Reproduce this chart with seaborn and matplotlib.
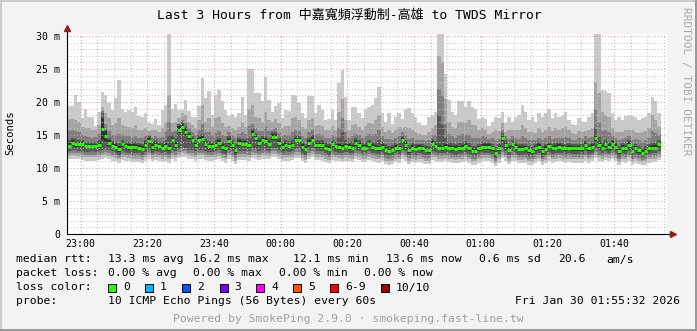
import numpy as np
import pandas as pd
import matplotlib
matplotlib.use("Agg")
import matplotlib.pyplot as plt
import seaborn as sns
from matplotlib.ticker import MultipleLocator
from matplotlib.patches import Rectangle

# ---------------- data ----------------
# time axis in minutes since 00:00 of Jan 29 (23:00 = 1380, 01:40 = 1540)
view_start = 1375.89
view_end = 1555.89
first_step = 1376          # first 1-minute step start

med = [13.4,13.8,13.6,13.6,13.6,13.3,13.3,13.3,13.3,13.5,15.9,14.8,13.8,13.4,13.2,12.9,13.6,13.3,13.2,13.2,13.2,13.1,12.9,13.5,14.1,13.2,13.5,13.3,13.1,13.4,
       13.0,14.2,13.5,15.8,16.2,15.5,14.8,14.2,13.5,14.3,14.4,13.6,13.3,13.3,13.5,13.8,13.2,13.0,14.1,13.5,12.7,13.8,13.7,13.7,13.5,15.2,14.5,13.8,14.2,14.1,
       13.7,14.7,14.7,13.8,13.2,13.5,13.3,13.5,14.2,14.2,13.2,12.9,13.8,14.3,13.5,13.5,13.5,13.1,12.9,13.6,13.3,13.2,13.1,13.3,13.2,13.1,13.8,13.5,13.1,13.1,
       13.6,13.2,13.1,13.0,13.2,12.8,12.6,12.8,13.1,13.0,14.2,13.5,12.7,13.1,12.9,13.1,13.0,12.8,12.7,13.7,13.3,13.1,13.0,13.2,13.1,13.0,12.9,13.0,13.1,13.4,
       13.0,12.6,12.6,13.0,13.2,13.2,13.2,13.0,12.2,13.0,14.5,13.5,12.8,13.6,13.2,12.9,12.9,13.0,12.7,12.5,13.0,13.2,12.5,12.9,13.3,13.0,13.1,13.2,13.1,13.0,
       13.1,13.0,13.0,13.0,13.0,13.5,13.0,13.2,14.5,13.5,13.1,13.6,13.2,13.7,13.2,12.5,13.1,13.0,13.5,12.6,13.0,12.7,12.3,12.6,13.0,13.1,13.1,13.6]

p_max = [19.4,19.4,21.0,20.0,17.5,18.9,17.7,17.7,16.3,18.5,21.5,21.0,19.8,18.8,20.6,23.3,19.0,18.5,18.8,18.5,19.3,17.9,17.7,18.4,16.8,16.7,17.4,16.5,18.8,19.5,
         30.6,19.0,19.7,18.8,18.8,20.3,18.6,17.7,17.7,19.4,23.7,20.6,21.6,18.0,21.1,21.8,20.1,18.8,17.9,18.2,17.8,18.3,20.8,18.0,25.0,25.0,21.3,21.3,20.1,23.8,
         20.3,18.5,19.4,19.8,17.5,18.8,18.6,21.1,21.1,19.8,18.3,17.5,20.9,20.9,18.3,19.5,18.8,17.2,17.4,18.8,17.3,22.9,24.8,20.8,17.3,19.2,19.2,18.4,17.5,19.0,
         19.2,19.5,20.6,22.2,18.3,16.9,18.3,16.7,17.7,18.3,17.4,18.9,19.1,18.3,17.8,16.8,16.5,16.5,17.7,18.0,18.5,30.6,30.6,24.3,20.3,18.5,18.0,20.2,20.1,19.2,
         20.1,19.3,19.0,17.4,17.7,17.4,16.3,17.0,17.7,17.5,18.5,16.8,17.8,17.0,17.7,18.0,19.5,18.5,17.2,17.7,16.9,18.3,17.7,18.4,19.0,17.5,18.4,17.7,18.0,18.5,
         17.3,16.7,16.5,17.5,17.0,17.0,17.7,18.3,30.6,30.6,21.8,21.6,21.3,18.3,17.3,17.7,17.3,17.9,18.0,17.9,17.7,17.3,17.5,17.8,18.3,20.8,20.1,18.3]

p_hi2 = [17.4,17.4,17.2,17.0,16.2,16.0,16.0,15.8,15.8,16.5,19.2,18.3,17.5,16.5,16.8,17.5,16.5,16.3,16.2,16.0,16.5,15.8,15.8,16.0,15.6,15.8,15.8,15.5,16.0,17.0,
         21.0,16.8,17.0,17.5,18.3,18.0,17.0,16.5,16.0,17.2,19.5,17.0,17.5,16.2,17.5,17.8,16.8,16.2,16.4,16.0,15.8,16.2,17.0,16.2,19.0,19.5,17.8,17.5,17.0,18.5,
         17.2,17.0,17.4,16.8,16.0,16.3,16.4,17.5,17.8,17.2,16.2,15.9,17.2,17.5,16.3,16.5,16.4,15.8,15.8,16.3,15.8,18.5,20.5,17.2,15.8,16.5,16.6,16.2,15.8,16.4,
         16.8,16.6,17.2,18.0,16.2,15.5,15.8,15.3,15.8,16.2,16.0,16.2,16.0,15.7,15.5,15.2,15.0,15.0,15.5,16.0,16.5,27.0,26.0,20.5,17.0,16.2,16.0,17.0,17.0,16.8,
         17.2,16.5,16.5,15.7,16.0,15.8,15.2,15.5,15.8,15.6,16.8,15.5,15.8,15.7,15.8,15.8,16.5,16.0,15.4,15.5,15.3,16.0,15.5,15.8,16.2,15.6,16.0,15.8,16.0,16.2,
         15.7,15.3,15.2,15.6,15.4,15.6,15.8,16.0,23.0,21.3,18.5,18.0,17.8,16.0,15.5,15.5,15.5,15.7,15.8,15.7,15.5,15.3,15.4,15.6,16.0,18.0,17.3,16.2]

p_hi3 = [15.6,15.8,15.6,15.4,15.0,14.8,14.7,14.6,14.7,15.2,18.6,16.6,15.6,15.0,15.0,15.2,15.0,14.8,14.8,14.6,14.8,14.5,14.5,14.8,15.0,14.6,14.8,14.6,14.7,15.5,
         17.0,15.5,15.6,16.6,17.3,16.8,16.0,15.5,15.0,15.8,16.6,15.4,15.4,15.0,15.3,15.6,15.0,14.8,15.4,15.0,14.5,15.2,15.4,15.1,16.4,16.6,16.0,15.6,15.6,16.2,
         15.6,15.8,16.0,15.3,14.8,15.0,15.0,15.5,15.8,15.6,14.9,14.6,15.5,15.8,15.0,15.1,15.0,14.6,14.5,15.0,14.7,16.0,17.5,15.4,14.6,14.9,15.2,15.0,14.6,14.8,
         15.2,15.0,15.2,15.8,14.9,14.4,14.4,14.2,14.6,14.8,15.4,15.0,14.4,14.5,14.3,14.3,14.2,14.1,14.2,15.0,15.0,22.0,21.0,16.6,15.2,14.8,14.6,15.0,15.1,15.0,
         15.0,14.6,14.5,14.5,14.8,14.7,14.4,14.5,14.2,14.4,15.8,14.8,14.4,14.8,14.6,14.4,14.8,14.6,14.2,14.2,14.3,14.6,14.2,14.5,14.8,14.4,14.6,14.6,14.6,14.7,
         14.6,14.3,14.3,14.5,14.4,14.8,14.5,14.7,19.0,17.0,15.6,15.8,15.4,14.9,14.6,14.2,14.4,14.5,14.8,14.3,14.4,14.2,14.0,14.3,14.6,15.6,15.3,15.0]

p_hi4 = [14.3,14.6,14.4,14.3,14.2,14.0,13.9,13.9,14.0,14.3,18.3,15.8,14.6,14.1,14.0,13.8,14.3,14.0,13.9,13.9,14.0,13.8,13.7,14.2,14.8,14.0,14.3,14.0,13.9,14.3,
         15.0,15.0,14.5,16.6,17.0,16.3,15.5,14.9,14.3,15.0,15.2,14.4,14.1,14.0,14.3,14.6,14.0,13.8,14.8,14.2,13.6,14.5,14.4,14.4,14.6,16.0,15.3,14.6,14.9,14.9,
         14.5,15.4,15.5,14.5,14.0,14.3,14.1,14.4,15.0,14.9,14.0,13.7,14.6,15.0,14.3,14.3,14.2,13.9,13.7,14.3,14.0,14.6,15.5,14.3,13.9,13.9,14.5,14.2,13.8,13.9,
         14.3,14.0,14.0,14.2,13.9,13.6,13.4,13.5,13.8,13.8,14.9,14.2,13.5,13.8,13.6,13.7,13.7,13.5,13.4,14.4,14.1,18.0,16.5,14.5,14.0,13.8,13.6,13.8,13.9,14.1,
         13.8,13.4,13.4,13.7,13.9,13.9,13.9,13.7,13.2,13.7,15.3,14.2,13.5,14.2,13.9,13.6,13.7,13.7,13.4,13.3,13.7,13.9,13.3,13.6,14.0,13.7,13.8,13.9,13.8,13.7,
         13.8,13.7,13.7,13.7,13.7,14.1,13.7,13.9,16.0,14.7,13.9,14.3,13.9,14.3,13.9,13.3,13.8,13.7,14.2,13.4,13.7,13.4,13.1,13.4,13.7,13.9,13.8,14.3]

p_hi5 = [13.8,14.2,14.0,14.0,13.9,13.7,13.6,13.6,13.7,13.9,17.6,15.6,14.2,13.8,13.6,13.4,14.0,13.7,13.6,13.6,13.6,13.5,13.3,13.9,14.5,13.6,13.9,13.7,13.5,13.8,
         13.5,14.6,14.0,16.3,16.7,16.0,15.2,14.6,13.9,14.7,14.8,14.0,13.7,13.7,13.9,14.2,13.6,13.4,14.5,13.9,13.1,14.2,14.1,14.1,13.9,15.6,14.9,14.2,14.6,14.5,
         14.1,15.1,15.1,14.2,13.6,13.9,13.7,13.9,14.6,14.6,13.6,13.3,14.2,14.7,13.9,13.9,13.9,13.5,13.3,14.0,13.7,13.6,13.5,13.7,13.6,13.5,14.2,13.9,13.5,13.5,
         14.0,13.6,13.5,13.4,13.6,13.2,13.0,13.2,13.5,13.4,14.6,13.9,13.1,13.5,13.3,13.5,13.4,13.2,13.1,14.1,13.7,13.5,13.4,13.6,13.5,13.4,13.3,13.4,13.5,13.8,
         13.4,13.0,13.0,13.4,13.6,13.6,13.6,13.4,12.6,13.4,14.9,13.9,13.2,14.0,13.6,13.3,13.3,13.4,13.1,12.9,13.4,13.6,12.9,13.3,13.7,13.4,13.5,13.6,13.5,13.4,
         13.5,13.4,13.4,13.4,13.4,13.9,13.4,13.6,14.9,13.9,13.5,14.0,13.6,14.1,13.6,12.9,13.5,13.4,13.9,13.0,13.4,13.1,12.7,13.0,13.4,13.5,13.5,14.0]

p_lo5 = [13.0,13.4,13.2,13.2,13.3,12.9,13.0,13.0,12.9,13.1,14.2,14.0,13.4,13.0,12.8,12.4,13.2,12.9,12.8,12.8,12.8,12.7,12.5,13.1,13.7,12.8,13.1,12.9,12.7,13.0,
         12.5,13.8,13.0,15.3,15.7,15.0,14.4,13.8,13.1,13.9,14.0,13.2,12.9,12.9,13.1,13.4,12.8,12.6,13.7,13.1,12.3,13.4,13.3,13.3,13.1,14.8,14.1,13.4,13.8,13.7,
         13.3,14.3,14.3,13.4,12.8,13.1,12.9,13.1,13.8,13.8,12.8,12.5,13.4,13.9,13.1,13.1,13.1,12.7,12.5,13.2,12.9,12.8,12.7,12.9,12.8,12.7,13.4,13.1,12.7,12.7,
         13.2,12.8,12.7,12.6,12.8,12.4,12.2,12.4,12.7,12.6,13.8,13.1,12.3,12.7,12.5,12.7,12.6,12.4,12.3,13.3,12.9,12.7,12.6,12.8,12.7,12.6,12.5,12.6,12.7,13.0,
         12.6,12.2,12.2,12.6,12.8,12.8,12.8,12.6,11.8,12.6,14.1,13.1,12.4,13.2,12.8,12.5,12.5,12.6,12.3,12.1,12.6,12.8,12.1,12.5,12.9,12.6,12.7,12.8,12.7,12.6,
         12.7,12.6,12.6,12.6,12.6,13.1,12.6,12.8,14.1,13.1,12.7,13.2,12.8,13.3,12.8,12.1,12.7,12.6,13.1,12.2,12.6,12.3,11.9,12.2,12.6,12.7,12.7,13.2]

p_lo4 = [12.6,12.8,12.7,12.6,12.6,12.4,12.4,12.5,12.4,12.5,12.8,12.9,12.7,12.5,12.3,12.0,12.5,12.4,12.3,12.2,12.2,12.2,12.0,12.4,12.8,12.3,12.5,12.4,12.2,12.4,
         12.1,12.7,12.5,12.9,13.2,13.0,12.8,12.7,12.5,12.8,12.8,12.6,12.4,12.4,12.5,12.7,12.3,12.1,12.8,12.5,11.9,12.6,12.6,12.6,12.5,13.0,12.9,12.6,12.8,12.8,
         12.6,13.0,13.0,12.7,12.3,12.5,12.4,12.5,12.9,12.9,12.3,12.0,12.7,13.0,12.5,12.5,12.5,12.2,12.0,12.6,12.4,12.3,12.2,12.4,12.3,12.2,12.7,12.5,12.2,12.2,
         12.6,12.3,12.2,12.1,12.3,11.9,11.8,11.9,12.2,12.1,12.8,12.5,11.9,12.2,12.0,12.2,12.1,11.9,11.9,12.6,12.4,12.2,12.2,12.3,12.2,12.1,12.0,12.1,12.2,12.4,
         12.1,11.8,11.8,12.1,12.3,12.3,12.3,12.1,11.5,12.1,12.9,12.5,11.9,12.5,12.3,12.0,12.0,12.1,11.8,11.7,12.1,12.3,11.7,12.0,12.4,12.1,12.2,12.3,12.2,12.1,
         12.2,12.1,12.1,12.1,12.1,12.5,12.1,12.3,12.9,12.5,12.2,12.6,12.3,12.7,12.3,11.7,12.2,12.1,12.5,11.8,12.1,11.9,11.6,11.8,12.1,12.2,12.2,12.6]

p_lo3 = [12.2,12.3,12.2,12.2,12.1,12.0,12.0,12.0,12.0,12.1,12.3,12.4,12.2,12.0,11.9,11.7,12.1,12.0,11.9,11.8,11.8,11.8,11.6,12.0,12.3,11.9,12.1,12.0,11.8,12.0,
         11.7,12.2,12.0,12.4,12.6,12.5,12.3,12.2,12.0,12.3,12.3,12.1,12.0,12.0,12.1,12.2,11.9,11.7,12.3,12.0,11.5,12.1,12.1,12.1,12.0,12.4,12.3,12.1,12.3,12.3,
         12.2,12.5,12.5,12.2,11.9,12.0,12.0,12.1,12.4,12.4,11.9,11.6,12.2,12.5,12.1,12.1,12.0,11.8,11.6,12.1,12.0,11.9,11.8,12.0,11.9,11.8,12.2,12.1,11.8,11.8,
         12.1,11.9,11.8,11.7,11.9,11.5,11.4,11.5,11.8,11.7,12.3,12.0,11.5,11.8,11.6,11.8,11.7,11.5,11.5,12.1,12.0,11.8,11.8,11.9,11.8,11.7,11.6,11.7,11.8,12.0,
         11.7,11.4,11.4,11.7,11.9,11.9,11.9,11.7,11.1,11.7,12.4,12.0,11.5,12.0,11.9,11.6,11.6,11.7,11.4,11.3,11.7,11.9,11.3,11.6,12.0,11.7,11.8,11.9,11.8,11.7,
         11.8,11.7,11.7,11.7,11.7,12.0,11.7,11.9,12.4,12.0,11.8,12.1,11.9,12.2,11.9,11.3,11.8,11.7,12.0,11.4,11.7,11.5,11.2,11.4,11.7,11.8,11.8,12.1]

p_lo2 = [11.8,11.9,11.8,11.8,11.7,11.6,11.6,11.6,11.6,11.7,11.9,12.0,11.8,11.6,11.5,11.3,11.7,11.6,11.5,11.4,11.4,11.4,11.2,11.6,11.9,11.5,11.7,11.6,11.4,11.6,
         11.3,11.8,11.6,12.0,12.2,12.1,11.9,11.8,11.6,11.9,11.9,11.7,11.6,11.6,11.7,11.8,11.5,11.3,11.9,11.6,11.1,11.7,11.7,11.7,11.6,12.0,11.9,11.7,11.9,11.9,
         11.8,12.1,12.1,11.8,11.5,11.6,11.6,11.7,12.0,12.0,11.5,11.2,11.8,12.1,11.7,11.7,11.6,11.4,11.2,11.7,11.6,11.5,11.4,11.6,11.5,11.4,11.8,11.7,11.4,11.4,
         11.7,11.5,11.4,11.3,11.5,11.1,11.0,11.1,11.4,11.3,11.9,11.6,11.1,11.4,11.2,11.4,11.3,11.1,11.1,11.7,11.6,11.4,11.4,11.5,11.4,11.3,11.2,11.3,11.4,11.6,
         11.3,11.0,11.0,11.3,11.5,11.5,11.5,11.3,10.8,11.3,12.0,11.6,11.1,11.6,11.5,11.2,11.2,11.3,11.0,10.9,11.3,11.5,10.9,11.2,11.6,11.3,11.4,11.5,11.4,11.3,
         11.4,11.3,11.3,11.3,11.3,11.6,11.3,11.5,12.0,11.6,11.4,11.7,11.5,11.8,11.5,10.9,11.4,11.3,11.6,11.0,11.3,11.1,10.9,11.0,11.3,11.4,11.4,11.7]

p_min = [11.3,11.4,11.3,11.3,11.2,11.1,11.1,11.1,11.1,11.2,11.4,11.5,11.3,11.1,11.0,10.8,11.2,11.1,11.0,10.9,10.9,10.9,10.7,11.1,11.4,11.0,11.2,11.1,10.9,11.1,
         10.8,11.3,11.1,11.5,11.7,11.6,11.4,11.3,11.1,11.4,11.4,11.2,11.1,11.1,11.2,11.3,11.0,10.8,11.4,11.1,10.6,11.2,11.2,11.2,11.1,11.5,11.4,11.2,11.4,11.4,
         11.3,11.6,11.6,11.3,11.0,11.1,11.1,11.2,11.5,11.5,11.0,10.7,11.3,11.6,11.2,11.2,11.1,10.9,10.7,11.2,11.1,11.0,10.9,11.1,11.0,10.9,11.3,11.2,10.9,10.9,
         11.2,11.0,10.9,10.8,11.0,10.6,10.5,10.6,10.9,10.8,11.4,11.1,10.6,10.9,10.7,10.9,10.8,10.6,10.6,11.2,11.1,10.9,10.9,11.0,10.9,10.8,10.7,10.8,10.9,11.1,
         10.8,10.5,10.5,10.8,11.0,11.0,11.0,10.8,10.3,10.8,11.5,11.1,10.6,11.1,11.0,10.7,10.7,10.8,10.5,10.4,10.8,11.0,10.4,10.7,11.1,10.8,10.9,11.0,10.9,10.8,
         10.9,10.8,10.8,10.8,10.8,11.1,10.8,11.0,11.5,11.1,10.9,11.2,11.0,11.3,11.0,10.4,10.9,10.8,11.1,10.5,10.8,10.6,10.4,10.5,10.8,10.9,10.9,11.2]

x_tick_pos = [1380, 1400, 1420, 1440, 1460, 1480, 1500, 1520, 1540]
x_tick_labels = ["23:00", "23:20", "23:40", "00:00", "00:20", "00:40", "01:00", "01:20", "01:40"]
y_tick_pos = [0, 5, 10, 15, 20, 25, 30]
y_tick_labels = ["0", "5 m", "10 m", "15 m", "20 m", "25 m", "30 m"]
y_max = 30.3

title = "Last 3 Hours from 中嘉寬頻浮動制-高雄 to TWDS Mirror"
rtt_stats = ["13.3 ms avg", "16.2 ms max", "12.1 ms min", "13.6 ms now", "0.6 ms sd", "20.6", "am/s"]
loss_stats = ["0.00 % avg", "0.00 % max", "0.00 % min", "0.00 % now"]
loss_labels = ["0", "1", "2", "3", "4", "5", "6-9", "10/10"]
loss_colors = ["#26ff00", "#00b8ff", "#0059ff", "#7e00ff", "#ff00ff", "#ff5500", "#ff0000", "#a10000"]
probe_text = "10 ICMP Echo Pings (56 Bytes) every 60s"
date_text = "Fri Jan 30 01:55:32 2026"
footer = "Powered by SmokePing 2.9.0 · smokeping.fast-line.tw"
watermark = "RRDTOOL / TOBI OETIKER"
smoke_colors = ["#cacaca", "#a4a4a4", "#7e7e7e", "#585858", "#323232"]

# ---------------- figure ----------------
sns.set_theme(style="white")
plt.rcParams["font.family"] = ["DejaVu Sans Mono", "Noto Sans CJK TC"]

W, H = 697, 331
fig = plt.figure(figsize=(W / 100, H / 100), dpi=100)
fig.patch.set_facecolor("#f3f3f3")

def fx(px):
    return px / W

def fy(py):
    return 1 - py / H

ax = fig.add_axes([fx(67), fy(234), 600 / W, 200 / H])
ax.set_facecolor("white")

n = min(len(med), len(p_max), len(p_hi2), len(p_hi3), len(p_hi4), len(p_hi5),
        len(p_lo5), len(p_lo4), len(p_lo3), len(p_lo2), len(p_min))
edges = first_step + np.arange(n + 1)

def ext(a):
    a = np.asarray(a[:n], dtype=float)
    return np.append(a, a[-1])

layers = [(p_min, p_max), (p_lo2, p_hi2), (p_lo3, p_hi3), (p_lo4, p_hi4), (p_lo5, p_hi5)]
for (lo, hi), col in zip(layers, smoke_colors):
    ax.fill_between(edges, ext(lo), ext(hi), step="post", color=col,
                    linewidth=0, zorder=1)

# median as separate flat segments (no vertical connectors), drawn by seaborn
seg_t = np.column_stack([edges[:-1], edges[1:]]).ravel()
seg_v = np.repeat(np.asarray(med[:n], dtype=float), 2)
seg_id = np.repeat(np.arange(n), 2)
df = pd.DataFrame({"t": seg_t, "v": seg_v, "seg": seg_id})
sns.lineplot(data=df, x="t", y="v", units="seg", estimator=None, ax=ax,
             color=loss_colors[0], linewidth=2.2, zorder=3, legend=False,
             solid_capstyle="butt")

ax.set_xlim(view_start, view_end)
ax.set_ylim(0, y_max)
ax.set_xlabel("")
ax.set_ylabel("")

ax.set_xticks(x_tick_pos)
ax.set_xticklabels(x_tick_labels)
ax.xaxis.set_minor_locator(MultipleLocator(5))
ax.set_yticks(y_tick_pos)
ax.set_yticklabels(y_tick_labels)
ax.yaxis.set_minor_locator(MultipleLocator(1))

ax.set_axisbelow(False)
ax.grid(which="minor", color="#c4c4c4", linestyle=(0, (1, 2)), linewidth=0.75)
ax.grid(which="major", color="#e59a9a", linestyle=(0, (1, 2)), linewidth=0.75)

ax.tick_params(axis="both", which="major", direction="out", length=2.2, width=0.7,
               color="#444444", labelsize=7.1, labelcolor="black")
ax.tick_params(axis="both", which="minor", direction="out", length=1.4, width=0.6,
               color="#666666")
ax.tick_params(axis="x", which="major", pad=1.5)
ax.tick_params(axis="y", which="major", pad=2.9)

for s in ax.spines.values():
    s.set_visible(False)

# axis lines with arrows
ax.plot([0, 0], [0, 1.025], transform=ax.transAxes, clip_on=False,
        color="black", linewidth=0.8, zorder=5)
ax.plot([0, 1.008], [0, 0], transform=ax.transAxes, clip_on=False,
        color="black", linewidth=0.8, zorder=5)
ax.plot([0], [1.03], transform=ax.transAxes, clip_on=False, marker="^",
        markersize=4.2, color="#9b1b1b", zorder=6)
ax.plot([1.01], [0], transform=ax.transAxes, clip_on=False, marker=">",
        markersize=4.2, color="#9b1b1b", zorder=6)

# titles / labels
fig.text(fx(349), fy(15), title, ha="center", va="center", fontsize=9.4, color="black")
fig.text(fx(10), fy(133), "Seconds", rotation=90, ha="center", va="center",
         fontsize=7.6, color="black")
fig.text(fx(686), fy(81), watermark, rotation=270, ha="center", va="center",
         fontsize=8.0, color="#a8a8a8")

LF = 8.2
def row(px, py, s, **kw):
    fig.text(fx(px), fy(py), s, ha=kw.pop("ha", "left"), va="baseline",
             fontsize=kw.pop("fontsize", LF), color=kw.pop("color", "black"), **kw)

b1, b2, b3, b4 = 262.5, 276.5, 290.5, 304.5
row(16, b1, "median rtt:")
for xp, s in zip([107.6, 193.3, 293.3, 385.8, 479, 557.8, 606.7], rtt_stats):
    row(xp, b1, s)
row(16, b2, "packet loss:")
for xp, s in zip([107.6, 193.3, 279, 364.4], loss_stats):
    row(xp, b2, s)
row(16, b3, "loss color:")
box_x = [108, 145.3, 182.2, 219.6, 256.4, 293.3, 330.2, 381.3]
lab_x = [123.6, 160, 197, 234, 271, 308, 345, 396]
for bx, lx, lab, col in zip(box_x, lab_x, loss_labels, loss_colors):
    fig.add_artist(Rectangle((fx(bx), fy(291.5)), 8 / W, 8 / H, transform=fig.transFigure,
                             facecolor=col, edgecolor="black", linewidth=0.7))
    row(lx, b3, lab)
row(16, b4, "probe:")
row(107.6, b4, probe_text)
row(680, b4, date_text, ha="right")
row(348.5, 321.5, footer, ha="center", color="#a0a0a0")

# 3D-like border
fig.add_artist(Rectangle((0, fy(2)), 1, 2 / H, transform=fig.transFigure, color="#cbcbcb", linewidth=0))
fig.add_artist(Rectangle((0, 0), 2 / W, 1, transform=fig.transFigure, color="#cbcbcb", linewidth=0))
fig.add_artist(Rectangle((fx(W - 2), 0), 2 / W, 1, transform=fig.transFigure, color="#999999", linewidth=0))
fig.add_artist(Rectangle((0, 0), 1, 2 / H, transform=fig.transFigure, color="#999999", linewidth=0))

fig.savefig("out.png", dpi=100, facecolor=fig.get_facecolor())
